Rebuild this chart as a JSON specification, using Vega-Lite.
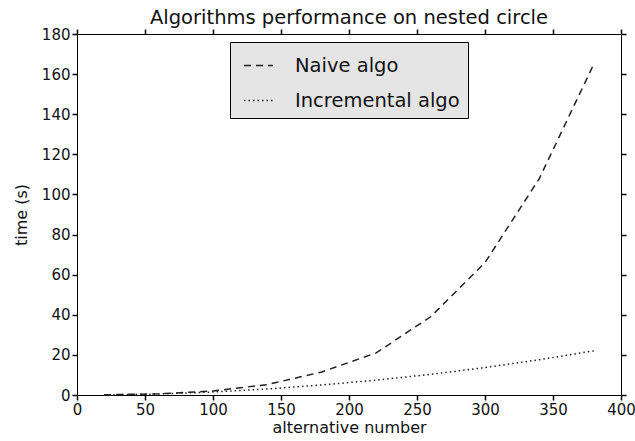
{
  "$schema": "https://vega.github.io/schema/vega-lite/v6.json",
  "width": 544,
  "height": 361,
  "autosize": {"type": "none"},
  "padding": {"left": 77, "top": 34, "right": 14, "bottom": 46},
  "title": {"text": "Algorithms performance on nested circle", "font": "DejaVu Sans", "fontSize": 19.5, "fontWeight": "normal", "color": "#111", "offset": -1},
  "config": {
    "view": {"stroke": "black", "strokeWidth": 1},
    "axis": {"labelFont": "DejaVu Sans", "labelFontSize": 15, "labelColor": "#111", "titleFont": "DejaVu Sans", "titleFontSize": 16, "titleFontWeight": "normal", "titleColor": "#111", "grid": false, "domain": false, "labelFlush": false}
  },
  "data": {"values": [
    {"n": 20, "t": 0.1, "algo": "Naive algo"},
    {"n": 60, "t": 0.6, "algo": "Naive algo"},
    {"n": 100, "t": 2.0, "algo": "Naive algo"},
    {"n": 140, "t": 5.2, "algo": "Naive algo"},
    {"n": 180, "t": 11.5, "algo": "Naive algo"},
    {"n": 220, "t": 21, "algo": "Naive algo"},
    {"n": 260, "t": 39, "algo": "Naive algo"},
    {"n": 300, "t": 66, "algo": "Naive algo"},
    {"n": 340, "t": 108, "algo": "Naive algo"},
    {"n": 380, "t": 165, "algo": "Naive algo"},
    {"n": 20, "t": 0.05, "algo": "Incremental algo"},
    {"n": 60, "t": 0.5, "algo": "Incremental algo"},
    {"n": 100, "t": 1.5, "algo": "Incremental algo"},
    {"n": 140, "t": 3.0, "algo": "Incremental algo"},
    {"n": 180, "t": 5.0, "algo": "Incremental algo"},
    {"n": 220, "t": 7.4, "algo": "Incremental algo"},
    {"n": 260, "t": 10.3, "algo": "Incremental algo"},
    {"n": 300, "t": 13.7, "algo": "Incremental algo"},
    {"n": 340, "t": 17.6, "algo": "Incremental algo"},
    {"n": 380, "t": 22, "algo": "Incremental algo"}
  ]},
  "layer": [
    {
      "transform": [{"filter": "datum.algo === 'Naive algo'"}],
      "mark": {"type": "line", "color": "#222", "strokeWidth": 1.5},
      "encoding": {
        "x": {"field": "n", "type": "quantitative", "scale": {"domain": [0, 400], "nice": false, "zero": false}, "axis": {"title": "alternative number", "values": [0, 50, 100, 150, 200, 250, 300, 350, 400], "ticks": true, "tickColor": "#000000", "tickSize": 5, "tickWidth": 1.5, "labelPadding": 2, "titlePadding": 2}},
        "y": {"field": "t", "type": "quantitative", "scale": {"domain": [0, 180], "nice": false}, "axis": {"title": "time (s)", "values": [0, 20, 40, 60, 80, 100, 120, 140, 160, 180], "ticks": true, "tickColor": "#000000", "tickSize": 5, "tickWidth": 1.5, "labelPadding": 2, "titlePadding": 12}},
        "strokeDash": {"field": "algo", "type": "nominal", "scale": {"domain": ["Naive algo", "Incremental algo"], "range": [[7, 5], [1.5, 3]]},
          "legend": {"title": null, "orient": "none", "legendX": 153, "legendY": 8, "fillColor": "#e5e5e5", "strokeColor": "black", "padding": 8, "symbolOffset": 5, "rowPadding": 10, "symbolType": "stroke", "symbolSize": 841, "symbolStrokeWidth": 1.5, "symbolStrokeColor": "#111", "labelFont": "DejaVu Sans", "labelFontSize": 19.5, "labelColor": "#111", "labelOffset": 21, "labelLimit": 400, "offset": 0}}
      }
    },
    {
      "transform": [{"filter": "datum.algo === 'Incremental algo'"}],
      "mark": {"type": "line", "color": "#222", "strokeWidth": 1.5},
      "encoding": {
        "x": {"field": "n", "type": "quantitative", "scale": {"domain": [0, 400], "nice": false, "zero": false}, "axis": {"orient": "top", "title": null, "labels": false, "ticks": true, "tickColor": "#000000", "tickSize": 5, "tickWidth": 1.5, "values": [0, 50, 100, 150, 200, 250, 300, 350, 400]}},
        "y": {"field": "t", "type": "quantitative", "scale": {"domain": [0, 180], "nice": false}, "axis": {"orient": "right", "title": null, "labels": false, "ticks": true, "tickColor": "#000000", "tickSize": 5, "tickWidth": 1.5, "values": [0, 20, 40, 60, 80, 100, 120, 140, 160, 180]}},
        "strokeDash": {"field": "algo", "type": "nominal", "scale": {"domain": ["Naive algo", "Incremental algo"], "range": [[7, 5], [1.5, 3]]}}
      }
    }
  ],
  "resolve": {"scale": {"x": "independent", "y": "independent"}}
}
